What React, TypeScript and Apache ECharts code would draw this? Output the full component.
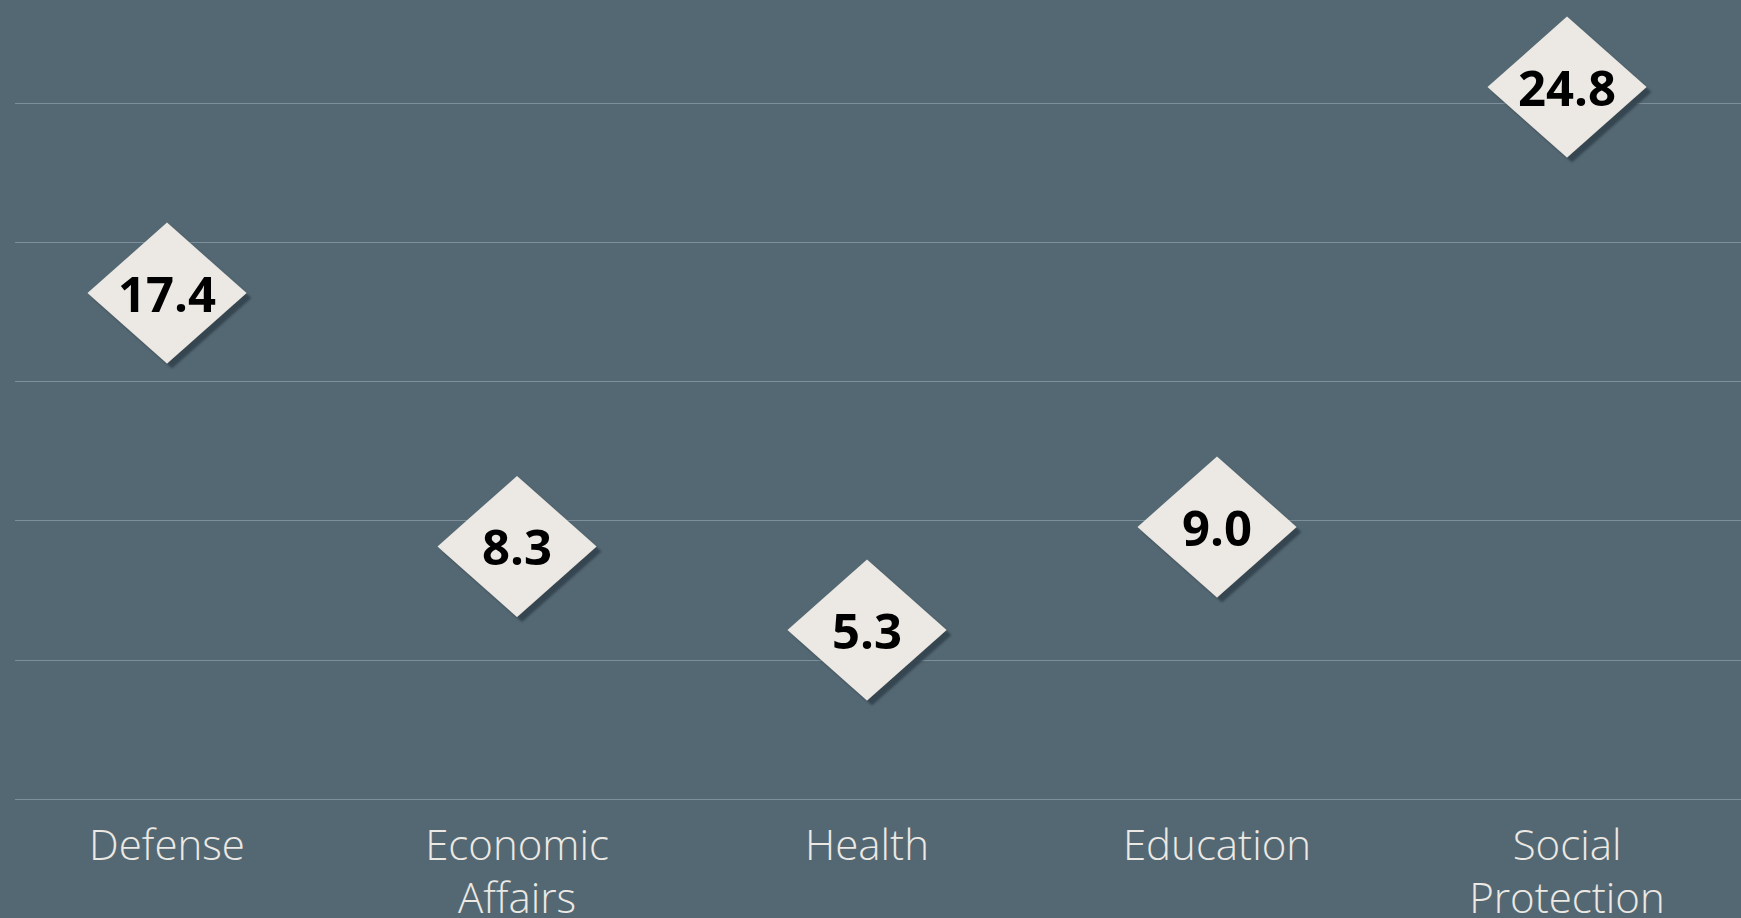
import React, { useEffect, useRef } from "react";
import * as echarts from "echarts";

const categories = ["Defense", "Economic Affairs", "Health", "Education", "Social Protection"];
const values = [17.4, 8.3, 5.3, 9.0, 24.8];
const yMin = 0;
const yMax = 25;
const yStep = 5;

const BG = "#546873";
const LIGHT = "#ECE9E4";
const GRID_LINE = "#7c8f9a";
const FONT = "'Open Sans', Lato, sans-serif";

export default function App() {
  const ref = useRef<HTMLDivElement>(null);
  useEffect(() => {
    if (!ref.current) return;
    const chart = echarts.init(ref.current, null, { renderer: "svg" });
    chart.setOption({
      animation: false,
      backgroundColor: BG,
      grid: [
        { left: -8, width: 1750, top: 103, bottom: 119, outerBoundsMode: "none", containLabel: false },
        { left: 15, right: 0, top: 103, bottom: 119, outerBoundsMode: "none", containLabel: false },
      ],
      xAxis: [
        {
          type: "category",
          gridIndex: 0,
          data: categories,
          axisLine: { show: false },
          axisTick: { show: false },
          splitLine: { show: false },
          axisLabel: {
            interval: 0,
            margin: 18,
            color: LIGHT,
            fontFamily: FONT,
            fontWeight: 300,
            fontSize: 42,
            lineHeight: 53,
            formatter: (v: string) => v.replace(" ", "\n"),
          },
        },
        { type: "category", gridIndex: 1, data: categories, show: false },
      ],
      yAxis: [
        { type: "value", gridIndex: 0, min: yMin, max: yMax, interval: yStep, show: false },
        {
          type: "value",
          gridIndex: 1,
          min: yMin,
          max: yMax,
          interval: yStep,
          axisLine: { show: false },
          axisTick: { show: false },
          axisLabel: { show: false },
          splitLine: { show: true, lineStyle: { color: GRID_LINE, width: 1 } },
        },
      ],
      series: [
        {
          type: "scatter",
          xAxisIndex: 0,
          yAxisIndex: 0,
          data: values,
          clip: false,
          symbol: "diamond",
          symbolSize: [159, 141],
          symbolOffset: [0, -21.5],
          itemStyle: {
            color: LIGHT,
            opacity: 1,
            shadowColor: "rgba(50,68,80,0.95)",
            shadowBlur: 2,
            shadowOffsetX: 5,
            shadowOffsetY: 5,
          },
          label: {
            show: true,
            position: "inside",
            formatter: (p: any) => Number(p.value).toFixed(1),
            color: "#000",
            fontFamily: FONT,
            fontWeight: "bold",
            fontSize: 49,
          },
          emphasis: { disabled: true },
        },
      ],
    });
    return () => chart.dispose();
  }, []);
  return (
    <div
      ref={ref}
      style={{ position: "fixed", left: 0, top: 0, width: 1741, height: 918 }}
    />
  );
}
